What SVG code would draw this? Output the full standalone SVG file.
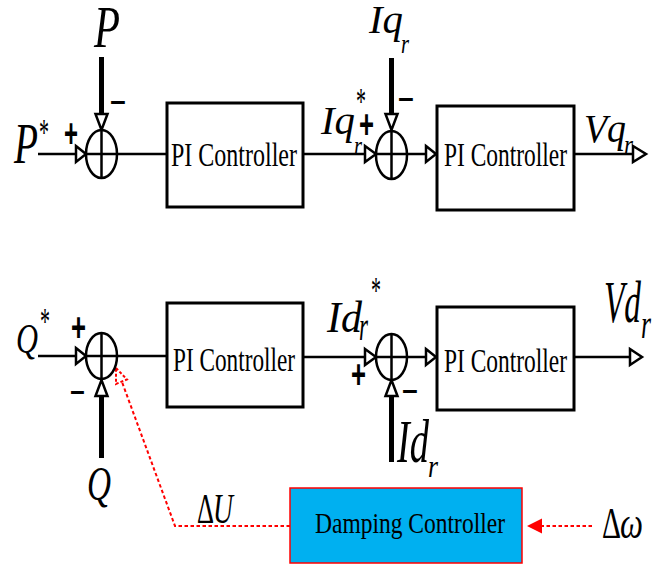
<svg xmlns="http://www.w3.org/2000/svg" width="671" height="568" viewBox="0 0 671 568">
<style>
.ln{stroke:#000;stroke-width:2.5;fill:none}
.thick{stroke:#000;stroke-width:5;fill:none}
.box{stroke:#000;stroke-width:3;fill:#fff}
.sum{stroke:#000;stroke-width:2.5;fill:#fff}
.oa{stroke:#000;stroke-width:2.5;fill:#fff;stroke-linejoin:miter}
.red{stroke:#f00;stroke-width:2;fill:none;stroke-dasharray:3.5 2.5}
.lab{font-family:"Liberation Serif","Times New Roman",serif;font-style:italic;fill:#000}
.up{font-family:"Liberation Serif","Times New Roman",serif;fill:#000}
.st{font-family:"Liberation Serif","Times New Roman",serif;fill:#000;font-size:38px}
.sg{font-family:"Liberation Sans",Arial,sans-serif;font-weight:bold;fill:#000}
</style>
<g id="connectors">
<line class="ln" x1="38" y1="154" x2="76" y2="154"/>
<polygon class="oa" points="76,146 86,154 76,162"/>
<line class="thick" x1="101.5" y1="57" x2="101.5" y2="114"/>
<polygon class="oa" points="95.5,114 107.5,114 101.5,130"/>
<line class="ln" x1="117" y1="154" x2="167" y2="154"/>
<line class="ln" x1="303" y1="154" x2="365" y2="154"/>
<polygon class="oa" points="365,146 376,154 365,162"/>
<line class="thick" x1="391.5" y1="58" x2="391.5" y2="114"/>
<polygon class="oa" points="385.5,114 397.5,114 391.5,130"/>
<line class="ln" x1="407" y1="154" x2="426" y2="154"/>
<polygon class="oa" points="426,146 436,154 426,162"/>
<line class="ln" x1="574" y1="154" x2="633" y2="154"/>
<polygon class="oa" points="633,146 646,154 633,162"/>
<line class="ln" x1="38" y1="356" x2="76" y2="356"/>
<polygon class="oa" points="76,348 86,356 76,364"/>
<line class="thick" x1="101.5" y1="458" x2="101.5" y2="396"/>
<polygon class="oa" points="95.5,396 107.5,396 101.5,380"/>
<line class="ln" x1="117" y1="356" x2="167" y2="356"/>
<line class="ln" x1="303" y1="357" x2="365" y2="357"/>
<polygon class="oa" points="365,349 376,357 365,365"/>
<line class="thick" x1="391.5" y1="462" x2="391.5" y2="396"/>
<polygon class="oa" points="385.5,396 397.5,396 391.5,380"/>
<line class="ln" x1="407" y1="357" x2="426" y2="357"/>
<polygon class="oa" points="426,349 436,357 426,365"/>
<line class="ln" x1="574" y1="357" x2="630" y2="357"/>
<polygon class="oa" points="630,349 642,357 630,365"/>
<polyline class="red" points="290,526 175,526 122,382"/>
<polygon points="116,368 127,379.5 116,384" fill="#fff" stroke="#f00" stroke-width="2" stroke-dasharray="3 2"/>
<line class="red" x1="592" y1="526" x2="542" y2="526"/>
<polygon points="527,526 542,518.5 542,533.5" fill="#f00"/>
</g>
<g id="sum1"><ellipse class="sum" cx="101.5" cy="154" rx="15.5" ry="24"/><line class="ln" x1="86" y1="154" x2="117" y2="154"/><line class="ln" x1="101.5" y1="130" x2="101.5" y2="178"/></g>
<g id="sum2"><ellipse class="sum" cx="391.5" cy="155" rx="15.5" ry="24"/><line class="ln" x1="376" y1="154" x2="407" y2="154"/><line class="ln" x1="391.5" y1="131" x2="391.5" y2="179"/></g>
<g id="sum3"><ellipse class="sum" cx="101.5" cy="356" rx="15.5" ry="23"/><line class="ln" x1="86" y1="356" x2="117" y2="356"/><line class="ln" x1="101.5" y1="333" x2="101.5" y2="379"/></g>
<g id="sum4"><ellipse class="sum" cx="391.5" cy="357" rx="15.5" ry="23"/><line class="ln" x1="376" y1="357" x2="407" y2="357"/><line class="ln" x1="391.5" y1="334" x2="391.5" y2="380"/></g>
<g id="pi1"><rect class="box" x="167" y="103" width="136" height="104"/><text class="up" x="171" y="166" font-size="34" textLength="126" lengthAdjust="spacingAndGlyphs">PI Controller</text></g>
<g id="pi2"><rect class="box" x="437" y="106" width="137" height="104"/><text class="up" x="444" y="166" font-size="34" textLength="123" lengthAdjust="spacingAndGlyphs">PI Controller</text></g>
<g id="pi3"><rect class="box" x="167" y="303" width="136" height="104"/><text class="up" x="173" y="371" font-size="34" textLength="122" lengthAdjust="spacingAndGlyphs">PI Controller</text></g>
<g id="pi4"><rect class="box" x="437" y="307" width="137" height="103"/><text class="up" x="444" y="372" font-size="34" textLength="123" lengthAdjust="spacingAndGlyphs">PI Controller</text></g>
<g id="damping"><rect x="290" y="488" width="232" height="75" fill="#00b0f0" stroke="#f00" stroke-width="1.5"/><text class="up" x="315" y="533" font-size="30" textLength="190" lengthAdjust="spacingAndGlyphs">Damping Controller</text></g>
<g id="labels">
<text class="lab" x="94" y="47" font-size="60" textLength="26" lengthAdjust="spacingAndGlyphs">P</text>
<text class="lab" x="14" y="163" font-size="57" textLength="24" lengthAdjust="spacingAndGlyphs">P</text>
<text class="st" x="39" y="145" textLength="10" lengthAdjust="spacingAndGlyphs">*</text>
<text class="lab" x="369" y="33" font-size="40" textLength="34" lengthAdjust="spacingAndGlyphs">Iq</text>
<text class="lab" x="401" y="53" font-size="28" textLength="8" lengthAdjust="spacingAndGlyphs">r</text>
<text class="lab" x="321" y="134" font-size="41" textLength="34" lengthAdjust="spacingAndGlyphs">Iq</text>
<text class="lab" x="354" y="155" font-size="28" textLength="8" lengthAdjust="spacingAndGlyphs">r</text>
<text class="st" x="356" y="114" textLength="10" lengthAdjust="spacingAndGlyphs">*</text>
<text class="lab" x="584" y="142" font-size="41" textLength="42" lengthAdjust="spacingAndGlyphs">Vq</text>
<text class="lab" x="624" y="154" font-size="28" textLength="9" lengthAdjust="spacingAndGlyphs">r</text>
<text class="lab" x="16" y="353" font-size="42" textLength="22" lengthAdjust="spacingAndGlyphs">Q</text>
<text class="st" x="40" y="334" textLength="10" lengthAdjust="spacingAndGlyphs">*</text>
<text class="lab" x="87" y="500" font-size="49" textLength="24" lengthAdjust="spacingAndGlyphs">Q</text>
<text class="lab" x="327" y="332" font-size="45" textLength="35" lengthAdjust="spacingAndGlyphs">Id</text>
<text class="lab" x="359" y="340" font-size="42" textLength="9" lengthAdjust="spacingAndGlyphs">r</text>
<text class="st" x="371" y="303" textLength="10" lengthAdjust="spacingAndGlyphs">*</text>
<text class="lab" x="397" y="462" font-size="62" textLength="32" lengthAdjust="spacingAndGlyphs">Id</text>
<text class="lab" x="428" y="477" font-size="32" textLength="10" lengthAdjust="spacingAndGlyphs">r</text>
<text class="lab" x="604" y="322" font-size="60" textLength="37" lengthAdjust="spacingAndGlyphs">Vd</text>
<text class="lab" x="641" y="338" font-size="40" textLength="10" lengthAdjust="spacingAndGlyphs">r</text>
<text class="up" x="197" y="523" font-size="42" textLength="17" lengthAdjust="spacingAndGlyphs">Δ</text>
<text class="lab" x="213" y="523" font-size="42" textLength="20" lengthAdjust="spacingAndGlyphs">U</text>
<text class="up" x="602" y="538" font-size="45" textLength="19" lengthAdjust="spacingAndGlyphs">Δ</text>
<text class="lab" x="620" y="538" font-size="45" textLength="23" lengthAdjust="spacingAndGlyphs">ω</text>
</g>
<g id="signs">
<text class="sg" x="64" y="147" font-size="40" textLength="14" lengthAdjust="spacingAndGlyphs">+</text>
<text class="sg" x="110" y="112" font-size="28" textLength="16" lengthAdjust="spacingAndGlyphs">−</text>
<text class="sg" x="359" y="138" font-size="40" textLength="15" lengthAdjust="spacingAndGlyphs">+</text>
<text class="sg" x="398" y="109" font-size="28" textLength="16" lengthAdjust="spacingAndGlyphs">−</text>
<text class="sg" x="71" y="341" font-size="40" textLength="15" lengthAdjust="spacingAndGlyphs">+</text>
<text class="sg" x="70" y="402" font-size="28" textLength="15" lengthAdjust="spacingAndGlyphs">−</text>
<text class="sg" x="351" y="388" font-size="40" textLength="15" lengthAdjust="spacingAndGlyphs">+</text>
<text class="sg" x="402" y="401" font-size="28" textLength="16" lengthAdjust="spacingAndGlyphs">−</text>
</g>
</svg>
